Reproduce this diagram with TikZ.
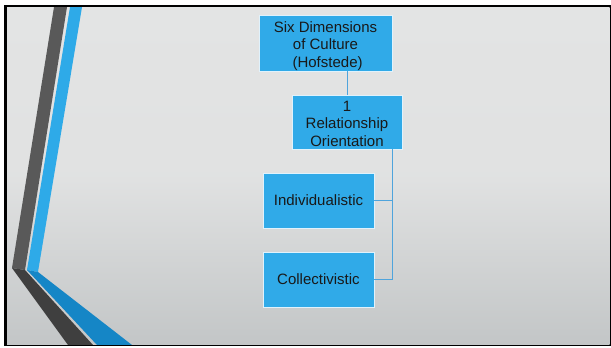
\documentclass[tikz,border=0pt]{standalone}
\usepackage{fontspec}
\setmainfont{Liberation Sans}
\definecolor{boxblue}{HTML}{30AAE8}
\definecolor{linkblue}{HTML}{4FA4DC}
\definecolor{stripedark}{HTML}{595959}
\definecolor{stripedeep}{HTML}{3F3F3F}
\definecolor{stripeblue}{HTML}{2EAAE8}
\definecolor{stripenavy}{HTML}{1586C6}
\definecolor{slidetop}{HTML}{E3E4E4}
\definecolor{slidebot}{HTML}{C3C6C7}
\tikzset{
  dimbox/.style={draw=white!85!boxblue, line width=0.6pt, fill=boxblue, align=center,
    inner sep=0pt, text=black!90, font=\fontsize{15}{17.5}\selectfont},
  link/.style={draw=linkblue, line width=1pt}
}
\begin{document}
\begin{tikzpicture}[x=1pt, y=-1pt]
  \useasboundingbox (0,0) rectangle (611,348);
  % page and frame
  \fill[white] (0,0) rectangle (611,348);
  \fill[black] (4,5) rectangle (611,346);
  \shade[top color=slidetop, bottom color=slidebot, middle color=slidetop!92!slidebot]
    (7,7.5) rectangle (609.5,344);
  % decorative stripes on the left
  \begin{scope}
    \clip (7,7.5) rectangle (609.5,344);
    \fill[stripedark] (54,7) -- (67,7) -- (25,270) -- (12,268) -- cycle;
    \fill[stripeblue] (70,7) -- (82,7) -- (38,272) -- (27,270) -- cycle;
    \fill[stripedeep] (12,268) -- (25,270) -- (93,345) -- (68,345) -- cycle;
    \fill[stripenavy] (27,270) -- (38,272) -- (132,345) -- (97,345) -- cycle;
  \end{scope}
  % hierarchy
  \node[dimbox, minimum width=133pt, minimum height=56pt] (culture) at (325.5,43)
    {\rule{0pt}{17pt}Six Dimensions\\of Culture\\\ (Hofstede)};
  \node[dimbox, minimum width=110pt, minimum height=54pt] (relation) at (347,122)
    {\rule{0pt}{14pt}1\\Relationship\\Orientation};
  \node[dimbox, minimum width=111pt, minimum height=55pt] (indiv) at (318.5,200.5)
    {Individualistic};
  \node[dimbox, minimum width=111pt, minimum height=55pt] (collect) at (318.5,279.5)
    {Collectivistic};
  \draw[link] (relation.north |- culture.south) -- (relation.north);
  \draw[link] ([xshift=-10pt]relation.south east) |- (indiv.east);
  \draw[link] ([xshift=-10pt]relation.south east) |- (collect.east);
\end{tikzpicture}
\end{document}
